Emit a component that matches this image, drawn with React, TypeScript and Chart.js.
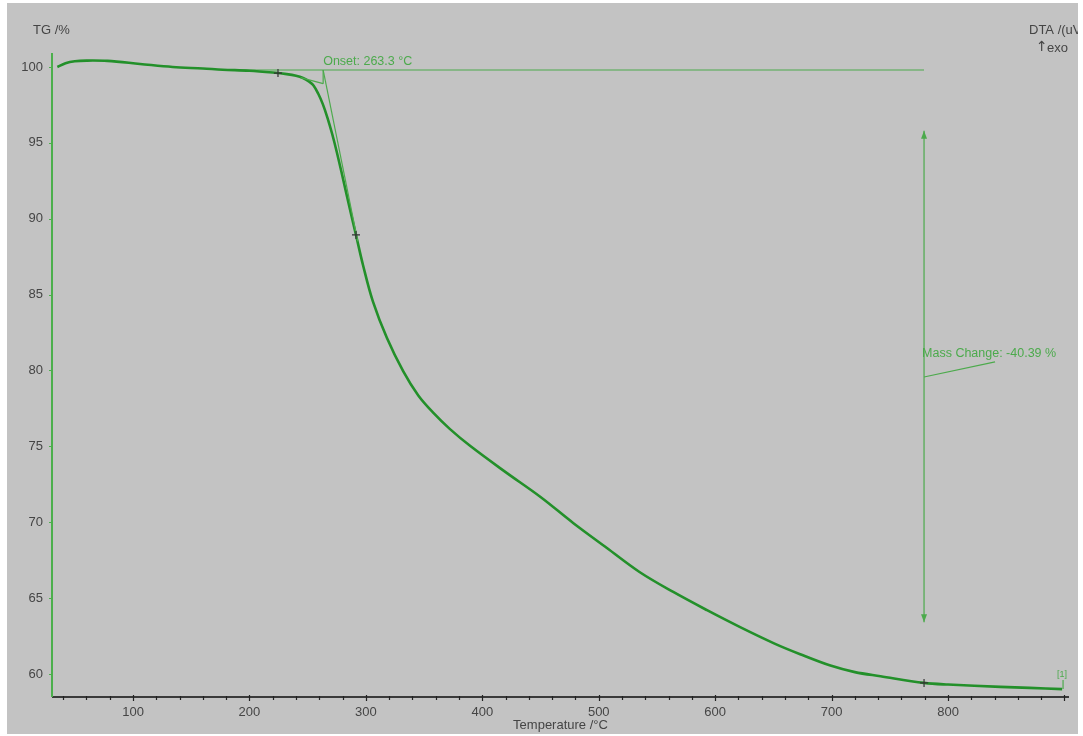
import { useEffect, useRef } from "react";
import { Chart, registerables } from "chart.js";

Chart.register(...registerables);

// ---- data ----
const TEMPERATURE = [
  35, 42, 50, 60, 78, 106, 134, 160, 177, 200, 220, 232, 240, 246, 251, 255,
  259, 263, 267, 271, 275, 280, 286, 291.5, 297.5, 306, 318, 332, 345, 358,
  372, 390, 420, 450, 478, 507, 535, 564, 593, 621, 651, 673, 699, 720, 742,
  779.4, 800, 845, 870, 898,
];
const TG_PERCENT = [
  100.0, 100.25, 100.38, 100.42, 100.4, 100.2, 100.0, 99.9, 99.82, 99.75,
  99.63, 99.53, 99.42, 99.27, 99.05, 98.78, 98.25, 97.55, 96.65, 95.6, 94.4,
  92.75, 90.72, 88.93, 86.95, 84.55, 82.15, 79.95, 78.35, 77.2, 76.15, 75.0,
  73.3, 71.66, 69.95, 68.3, 66.72, 65.4, 64.2, 63.1, 62.0, 61.3, 60.55, 60.12,
  59.85, 59.41, 59.3, 59.15, 59.08, 59.0,
];
const X_TICKS = [100, 200, 300, 400, 500, 600, 700, 800];
const Y_TICKS = [60, 65, 70, 75, 80, 85, 90, 95, 100];
const X_MIN = 30.4;
const X_MAX = 903.9;
const Y_MIN = 58.48;
const Y_MAX = 100.92;

// onset evaluation
const ONSET_T = 263.3;
const BASELINE_TG = 99.8;
const BASELINE_T = [180, 779.4];
const TANGENT_T = [263.3, 293];
const TANGENT_TG = [99.8, 88.5];
const ONSET_STUB_T = [244, 263.3];
const ONSET_STUB_TG = [99.3, 98.9];
const ONSET_DROP_TG = 98.9;

// mass change evaluation
const MASS_T = 779.4;
const MASS_ARROW_TG = [95.8, 63.4];
const LEADER_T = [779.4, 840.4];
const LEADER_TG = [79.57, 80.56];
const END_T = 898.8;
const END_TG = [59.0, 59.6];

// cross markers
const MARK_T = [224.5, 291.5, 779.4];
const MARK_TG = [99.6, 88.93, 59.41];

const ONSET_LABEL = "Onset: 263.3 °C";
const MASS_LABEL = "Mass Change: -40.39 %";

const TEXT = "#454545";
const CURVE = "#23902a";
const ANNO = "#4caa4c";
const FONT = "'Liberation Sans', Arial, sans-serif";

function pts(xs: number[], ys: number[]) {
  return xs.map((x, i) => ({ x, y: ys[i] }));
}

const decorPlugin = {
  id: "decor",
  beforeDraw(chart: any) {
    const ctx = chart.ctx;
    ctx.save();
    ctx.fillStyle = "#ffffff";
    ctx.fillRect(0, 0, chart.width, chart.height);
    ctx.fillStyle = "#c3c3c3";
    ctx.fillRect(7, 3, 1071, 731);
    ctx.restore();
  },
  afterDraw(chart: any) {
    const ctx = chart.ctx;
    const xs = chart.scales.x;
    const ys = chart.scales.y;
    const area = chart.chartArea;
    ctx.save();

    // x axis line + ticks
    ctx.strokeStyle = "#3a3a3a";
    ctx.lineWidth = 2;
    ctx.beginPath();
    ctx.moveTo(area.left, area.bottom);
    ctx.lineTo(area.right, area.bottom);
    ctx.stroke();
    ctx.lineWidth = 1.2;
    ctx.strokeStyle = "#222";
    for (let t = 40; t <= 900; t += 20) {
      const px = Math.round(xs.getPixelForValue(t)) + 0.5;
      const major = t % 100 === 0;
      ctx.beginPath();
      ctx.moveTo(px, area.bottom - (major ? 2 : 1));
      ctx.lineTo(px, area.bottom + (major ? 4 : 3));
      ctx.stroke();
    }

    // y axis line + ticks
    ctx.strokeStyle = "#4caf4c";
    ctx.lineWidth = 2;
    ctx.beginPath();
    ctx.moveTo(area.left, area.top);
    ctx.lineTo(area.left, area.bottom);
    ctx.stroke();
    ctx.lineWidth = 1;
    for (let v = 60; v <= 100; v += 2.5) {
      const py = Math.round(ys.getPixelForValue(v)) + 0.5;
      const major = v % 5 === 0;
      ctx.beginPath();
      ctx.moveTo(area.left - (major ? 3 : 1), py);
      ctx.lineTo(area.left, py);
      ctx.stroke();
    }

    // arrowheads of the mass change bar
    ctx.fillStyle = ANNO;
    const ax = xs.getPixelForValue(MASS_T);
    const topY = ys.getPixelForValue(MASS_ARROW_TG[0]);
    const botY = ys.getPixelForValue(MASS_ARROW_TG[1]);
    ctx.beginPath();
    ctx.moveTo(ax, topY);
    ctx.lineTo(ax - 3, topY + 8);
    ctx.lineTo(ax + 3, topY + 8);
    ctx.closePath();
    ctx.fill();
    ctx.beginPath();
    ctx.moveTo(ax, botY);
    ctx.lineTo(ax - 3, botY - 8);
    ctx.lineTo(ax + 3, botY - 8);
    ctx.closePath();
    ctx.fill();

    // texts
    ctx.textBaseline = "middle";
    ctx.textAlign = "left";
    ctx.font = `13px ${FONT}`;
    ctx.fillStyle = TEXT;
    ctx.fillText("TG /%", 33, 30);
    ctx.save();
    ctx.beginPath();
    ctx.rect(7, 3, 1071, 731);
    ctx.clip();
    ctx.fillText("DTA /(uV/mg)", 1029, 30);
    ctx.restore();
    ctx.font = `14px 'DejaVu Sans', sans-serif`;
    ctx.fillText("\u2191", 1036, 47);
    ctx.font = `13px ${FONT}`;
    ctx.fillText("exo", 1047, 48);

    ctx.fillStyle = ANNO;
    ctx.font = `12.5px ${FONT}`;
    ctx.fillText(ONSET_LABEL, xs.getPixelForValue(ONSET_T), ys.getPixelForValue(BASELINE_TG) - 8);
    ctx.fillText(MASS_LABEL, xs.getPixelForValue(MASS_T) - 2, ys.getPixelForValue(LEADER_TG[1]) - 8);
    ctx.font = `9px ${FONT}`;
    ctx.textAlign = "center";
    ctx.fillText("[1]", xs.getPixelForValue(END_T) - 1, ys.getPixelForValue(END_TG[1]) - 5);

    ctx.restore();
  },
};

export default function App() {
  const ref = useRef<HTMLCanvasElement | null>(null);

  useEffect(() => {
    if (!ref.current) return;
    const line = (data: any[], color: string, width: number, order: number) => ({
      data,
      borderColor: color,
      borderWidth: width,
      pointRadius: 0,
      fill: false,
      tension: 0,
      order,
    });
    const chart = new Chart(ref.current, {
      type: "line",
      data: {
        datasets: [
          {
            ...line(pts(TEMPERATURE, TG_PERCENT), CURVE, 2.6, 2),
            tension: 0.35,
          } as any,
          line(pts(BASELINE_T, [BASELINE_TG, BASELINE_TG]), ANNO, 1.2, 3),
          line(pts(TANGENT_T, TANGENT_TG), ANNO, 1.2, 1),
          line(pts([ONSET_T, ONSET_T], [BASELINE_TG, ONSET_DROP_TG]), ANNO, 1.2, 1),
          line(pts(ONSET_STUB_T, ONSET_STUB_TG), ANNO, 1.2, 1),
          line(pts([MASS_T, MASS_T], MASS_ARROW_TG), ANNO, 1.2, 1),
          line(pts(LEADER_T, LEADER_TG), ANNO, 1.2, 1),
          line(pts([END_T, END_T], END_TG), ANNO, 1.2, 1),
          {
            data: pts(MARK_T, MARK_TG),
            showLine: false,
            pointStyle: "cross",
            pointRadius: 4,
            pointBorderColor: "#333",
            pointBorderWidth: 1.2,
            order: 0,
          } as any,
        ],
      },
      options: {
        animation: false,
        responsive: false,
        devicePixelRatio: 1,
        layout: { padding: { left: 0, top: 53, right: 14, bottom: 0 } },
        plugins: {
          legend: { display: false },
          tooltip: { enabled: false },
          title: { display: false },
        },
        scales: {
          x: {
            type: "linear",
            min: X_MIN,
            max: X_MAX,
            grid: { display: false },
            border: { display: false },
            afterBuildTicks: (s: any) => {
              s.ticks = X_TICKS.map((v) => ({ value: v }));
            },
            afterFit: (s: any) => {
              s.height = 39;
            },
            ticks: {
              padding: 0,
              color: TEXT,
              font: { family: FONT, size: 13 },
              maxRotation: 0,
              autoSkip: false,
            },
            title: {
              display: true,
              text: "Temperature /°C",
              color: TEXT,
              font: { family: FONT, size: 13 },
              padding: { top: 0, bottom: 3 },
            },
          },
          y: {
            type: "linear",
            min: Y_MIN,
            max: Y_MAX,
            grid: { display: false },
            border: { display: false },
            afterBuildTicks: (s: any) => {
              s.ticks = Y_TICKS.map((v) => ({ value: v }));
            },
            afterFit: (s: any) => {
              s.width = 52;
            },
            ticks: {
              padding: 1,
              color: TEXT,
              font: { family: FONT, size: 13 },
              autoSkip: false,
            },
          },
        },
      },
      plugins: [decorPlugin],
    });
    return () => chart.destroy();
  }, []);

  return (
    <div style={{ position: "absolute", left: 0, top: 0, width: 1083, height: 736 }}>
      <canvas ref={ref} width={1083} height={736} style={{ display: "block" }} />
    </div>
  );
}
